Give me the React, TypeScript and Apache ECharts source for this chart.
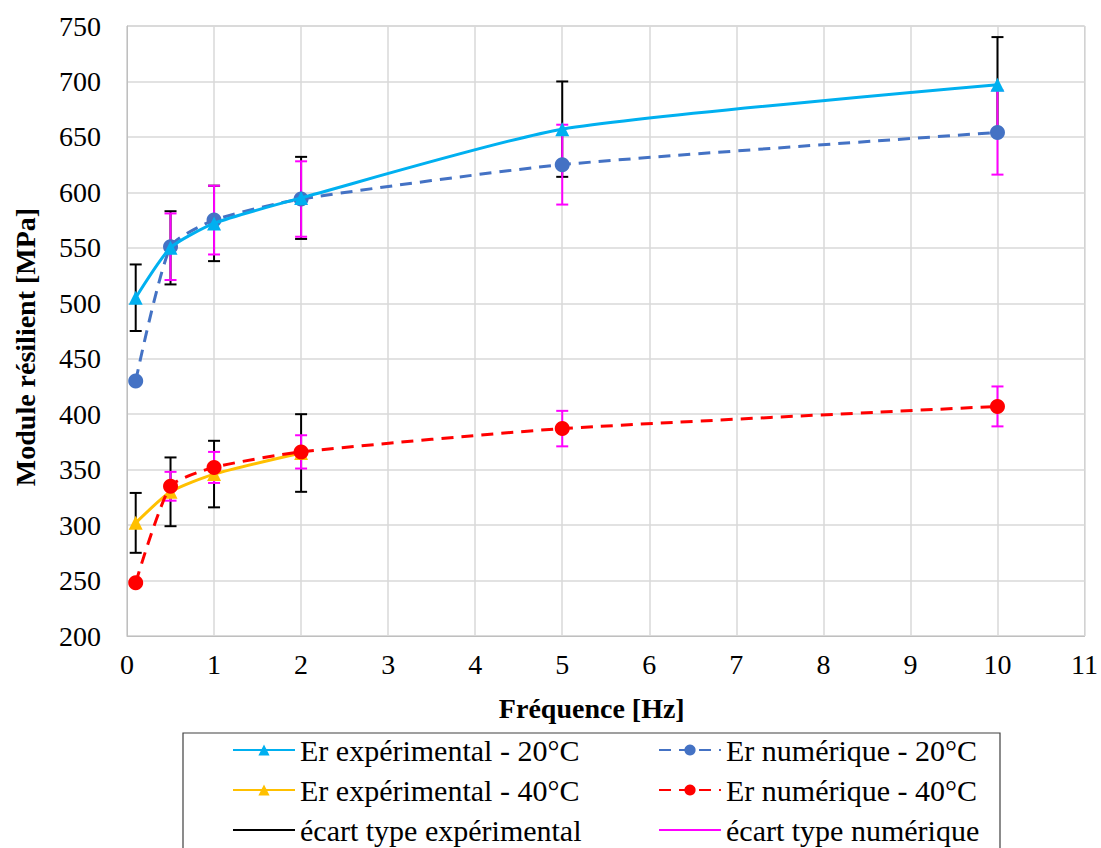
import React, { useEffect, useRef } from "react";
import * as echarts from "echarts";

const freqAll = [0.1, 0.5, 1, 2, 5, 10];
const freq40Exp = [0.1, 0.5, 1, 2];
const freqNumErr = [0.5, 1, 2, 5, 10];

const exp20 = [505, 550, 572, 595, 657, 697];
const num20 = [430, 551, 575, 594, 625, 654];
const exp40 = [302, 330, 346, 365];
const num40 = [248, 335, 352, 366, 387, 407];

const expErr20 = [30, 33, 34, 37, 43, 43];
const expErr40 = [27, 31, 30, 35];
const numErr20 = [30, 31, 34, 36, 38];
const numErr40 = [13, 14, 15, 16, 18];

const xTicks = [0, 1, 2, 3, 4, 5, 6, 7, 8, 9, 10, 11];
const yTicks = [200, 250, 300, 350, 400, 450, 500, 550, 600, 650, 700, 750];

const FONT = "Liberation Serif";

const pair = (xs: number[], ys: number[]) => xs.map((x, i) => [x, ys[i]]);
const errData = (xs: number[], ys: number[], es: number[]) =>
  xs.map((x, i) => [x, ys[i] - es[i], ys[i] + es[i]]);

const makeErrRender = (color: string) => (params: any, api: any) => {
  const x = api.value(0);
  const lo = api.value(1);
  const hi = api.value(2);
  const pHi = api.coord([x, hi]);
  const pLo = api.coord([x, lo]);
  const w = 6;
  const style = { stroke: color, lineWidth: 2 };
  return {
    type: "group",
    children: [
      { type: "line", shape: { x1: pHi[0], y1: pHi[1], x2: pLo[0], y2: pLo[1] }, style },
      { type: "line", shape: { x1: pHi[0] - w, y1: pHi[1], x2: pHi[0] + w, y2: pHi[1] }, style },
      { type: "line", shape: { x1: pLo[0] - w, y1: pLo[1], x2: pLo[0] + w, y2: pLo[1] }, style },
    ],
  };
};

export default function App() {
  const ref = useRef<HTMLDivElement>(null);
  useEffect(() => {
    if (!ref.current) return;
    const chart = echarts.init(ref.current, null, { renderer: "svg" });
    const expErrAll = [
      ...errData(freqAll, exp20, expErr20),
      ...errData(freq40Exp, exp40, expErr40),
    ];
    const numErrAll = [
      ...errData(freqNumErr, num20.slice(1), numErr20),
      ...errData(freqNumErr, num40.slice(1), numErr40),
    ];
    const lineIcon = "path://M0,0 L62,0 L62,2 L0,2 Z";
    const legendCommon = {
      orient: "vertical",
      top: 735,
      padding: 0,
      itemWidth: 62,
      itemHeight: 14,
      itemGap: 10,
      textStyle: { fontFamily: FONT, fontSize: 30, color: "#000", lineHeight: 30 },
    };
    chart.setOption({
      animation: false,
      backgroundColor: "#fff",
      grid: {
        left: 127,
        right: 16,
        top: 26,
        bottom: 212,
        show: true,
        borderColor: "#bfbfbf",
        borderWidth: 1,
      },
      xAxis: {
        type: "value",
        min: 0,
        max: 11,
        interval: 1,
        name: "Fréquence [Hz]",
        nameLocation: "middle",
        nameGap: 58,
        nameTextStyle: {
          fontFamily: FONT,
          fontSize: 28,
          fontWeight: "bold",
          color: "#000",
          padding: [0, 28, 0, 0],
        },
        axisLine: { show: true, lineStyle: { color: "#bfbfbf" } },
        axisTick: { show: false },
        axisLabel: {
          fontFamily: FONT,
          fontSize: 28,
          color: "#000",
          margin: 14,
          formatter: (v: number) => (xTicks.includes(v) ? String(v) : ""),
        },
        splitLine: { show: true, lineStyle: { color: "#d9d9d9", width: 1.5 } },
      },
      yAxis: {
        type: "value",
        min: 200,
        max: 750,
        interval: 50,
        name: "Module résilient [MPa]",
        nameLocation: "middle",
        nameGap: 88,
        nameTextStyle: {
          fontFamily: FONT,
          fontSize: 28,
          fontWeight: "bold",
          color: "#000",
          padding: [0, 32, 0, 0],
        },
        axisLine: { show: true, lineStyle: { color: "#bfbfbf" } },
        axisTick: { show: false },
        axisLabel: {
          fontFamily: FONT,
          fontSize: 28,
          color: "#000",
          margin: 26,
          formatter: (v: number) => (yTicks.includes(v) ? String(v) : ""),
        },
        splitLine: { show: true, lineStyle: { color: "#d9d9d9", width: 1.5 } },
      },
      legend: [
        {
          ...legendCommon,
          left: 232,
          data: [
            "Er expérimental - 20°C",
            "Er expérimental - 40°C",
            { name: "écart type expérimental", icon: lineIcon },
          ],
        },
        {
          ...legendCommon,
          left: 658,
          data: [
            "Er numérique - 20°C",
            "Er numérique - 40°C",
            { name: "écart type numérique", icon: lineIcon },
          ],
        },
      ],
      graphic: [
        {
          type: "rect",
          shape: { x: 183, y: 733, width: 817, height: 130 },
          style: { fill: "none", stroke: "#404040", lineWidth: 1.2 },
          z: -1,
        },
      ],
      series: [
        {
          name: "écart type expérimental",
          type: "custom",
          color: "#000",
          renderItem: makeErrRender("#000"),
          encode: { x: 0, y: [1, 2] },
          data: expErrAll,
          z: 1,
        },
        {
          name: "écart type numérique",
          type: "custom",
          color: "#ff00ff",
          renderItem: makeErrRender("#ff00ff"),
          encode: { x: 0, y: [1, 2] },
          data: numErrAll,
          z: 1,
        },
        {
          name: "Er expérimental - 20°C",
          type: "line",
          data: pair(freqAll, exp20),
          smooth: 0.2,
          color: "#00b0f0",
          symbol: "triangle",
          symbolSize: 14,
          lineStyle: { width: 3, color: "#00b0f0" },
          itemStyle: { color: "#00b0f0" },
          z: 3,
        },
        {
          name: "Er numérique - 20°C",
          type: "line",
          data: pair(freqAll, num20),
          smooth: 0.2,
          color: "#4472c4",
          symbol: "circle",
          symbolSize: 15,
          lineStyle: { width: 3, type: [12, 8], color: "#4472c4" },
          itemStyle: { color: "#4472c4" },
          z: 2,
        },
        {
          name: "Er expérimental - 40°C",
          type: "line",
          data: pair(freq40Exp, exp40),
          smooth: 0.2,
          color: "#ffc000",
          symbol: "triangle",
          symbolSize: 14,
          lineStyle: { width: 3, color: "#ffc000" },
          itemStyle: { color: "#ffc000" },
          z: 2,
        },
        {
          name: "Er numérique - 40°C",
          type: "line",
          data: pair(freqAll, num40),
          smooth: 0.2,
          color: "#ff0000",
          symbol: "circle",
          symbolSize: 15,
          lineStyle: { width: 3, type: [12, 8], color: "#ff0000" },
          itemStyle: { color: "#ff0000" },
          z: 3,
        },
      ],
    });
    return () => chart.dispose();
  }, []);
  return (
    <div
      ref={ref}
      style={{ position: "fixed", left: 0, top: 0, width: 1101, height: 848 }}
    />
  );
}
